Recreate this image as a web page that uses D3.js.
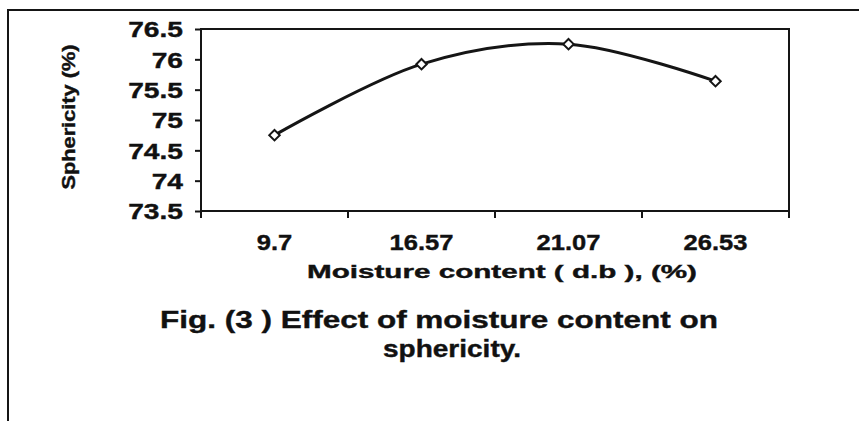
<!DOCTYPE html>
<html>
<head>
<meta charset="utf-8">
<script src="https://cdn.jsdelivr.net/npm/d3@7/dist/d3.min.js"></script>
<style>
  body { margin: 0; background: #fff; }
  svg { display: block; }
  text { font-family: "Liberation Sans", Arial, sans-serif; font-weight: bold; fill: #111; stroke: #111; stroke-width: 0.4px; }
</style>
</head>
<body>
<div id="chart"></div>
<script>
// moisture content categories (x axis labels)
var moisture = ["9.7", "16.57", "21.07", "26.53"];
// sphericity values
var sphericity = [74.75, 75.92, 76.25, 75.64];
// y axis ticks
var yTicks = [73.5, 74, 74.5, 75, 75.5, 76, 76.5];

var width = 859, height = 421;
// plot area in page pixels (note: "top" is reserved on window)
var plotLeft = 201, plotRight = 789, plotTop = 29, plotBottom = 211;
var ink = "#151515";

var svg = d3.select("#chart").append("svg")
	.attr("width", width)
	.attr("height", height);

// outer frame (only top and left visible in the scan)
svg.append("path")
	.attr("d", "M 8," + height + " L 8,10 L " + width + ",10")
	.attr("fill", "none")
	.attr("stroke", ink)
	.attr("stroke-width", 2);

var x = d3.scaleBand().domain(moisture).range([plotLeft, plotRight]).padding(0);
var y = d3.scaleLinear().domain([73.5, 76.5]).range([plotBottom, plotTop]);

// plot box
svg.append("rect")
	.attr("x", plotLeft).attr("y", plotTop)
	.attr("width", plotRight - plotLeft).attr("height", plotBottom - plotTop)
	.attr("fill", "none")
	.attr("stroke", ink)
	.attr("stroke-width", 2);

// y axis
var yAxis = svg.append("g")
	.attr("transform", "translate(" + plotLeft + ",0)")
	.call(d3.axisLeft(y).tickValues(yTicks).tickSize(6).tickSizeOuter(0)
		.tickFormat(function(d) { return String(d); }));
yAxis.select(".domain").remove();
yAxis.selectAll("line").attr("stroke", ink).attr("stroke-width", 2);
yAxis.selectAll("text")
	.attr("x", 0).attr("dy", "0.36em")
	.attr("transform", "translate(-18,0) scale(1.28,1)")
	.style("font-size", "22px")
	.style("font-family", "'Liberation Sans', Arial, sans-serif")
	.style("font-weight", "bold")
	.attr("fill", "#111");

// x axis: labels centred in bands, ticks on band edges like Excel
var xAxis = svg.append("g")
	.attr("transform", "translate(0," + plotBottom + ")")
	.call(d3.axisBottom(x).tickSize(0).tickSizeOuter(0));
xAxis.select(".domain").remove();
xAxis.selectAll("text")
	.attr("y", 0).attr("dy", 0)
	.attr("transform", "translate(0,39) scale(1.16,1)")
	.style("font-size", "22px")
	.style("font-family", "'Liberation Sans', Arial, sans-serif")
	.style("font-weight", "bold")
	.attr("fill", "#111");
var edges = moisture.map(function(d) { return x(d); }).concat([plotRight]);
svg.append("g").selectAll("line").data(edges).enter()
	.append("line")
	.attr("x1", function(d) { return d; })
	.attr("x2", function(d) { return d; })
	.attr("y1", plotBottom)
	.attr("y2", plotBottom + 7)
	.attr("stroke", ink)
	.attr("stroke-width", 2);

// smoothed line (Excel style)
var pts = moisture.map(function(m, i) {
	return [x(m) + x.bandwidth() / 2, y(sphericity[i])];
});
svg.append("path")
	.datum(pts)
	.attr("d", d3.line().curve(d3.curveCatmullRom.alpha(0)))
	.attr("fill", "none")
	.attr("stroke", ink)
	.attr("stroke-width", 3);

// diamond markers
svg.append("g").selectAll("path").data(pts).enter()
	.append("path")
	.attr("transform", function(d) { return "translate(" + d[0] + "," + d[1] + ")"; })
	.attr("d", d3.symbol().type(d3.symbolDiamond2).size(70))
	.attr("fill", "#fff")
	.attr("stroke", ink)
	.attr("stroke-width", 2);

// axis titles
svg.append("text")
	.attr("transform", "translate(75,117) rotate(-90)")
	.attr("text-anchor", "middle")
	.attr("textLength", 145)
	.attr("lengthAdjust", "spacingAndGlyphs")
	.style("font-size", "18px")
	.text("Sphericity (%)");

svg.append("text")
	.attr("x", 502).attr("y", 278)
	.attr("text-anchor", "middle")
	.attr("textLength", 390)
	.attr("lengthAdjust", "spacingAndGlyphs")
	.style("font-size", "19px")
	.text("Moisture content ( d.b ), (%)");

// figure caption
svg.append("text")
	.attr("x", 439).attr("y", 328)
	.attr("text-anchor", "middle")
	.attr("textLength", 558)
	.attr("lengthAdjust", "spacingAndGlyphs")
	.style("font-size", "24px")
	.text("Fig. (3 ) Effect of moisture content on");

svg.append("text")
	.attr("x", 452).attr("y", 357)
	.attr("text-anchor", "middle")
	.attr("textLength", 138)
	.attr("lengthAdjust", "spacingAndGlyphs")
	.style("font-size", "24px")
	.text("sphericity.");
</script>
</body>
</html>
